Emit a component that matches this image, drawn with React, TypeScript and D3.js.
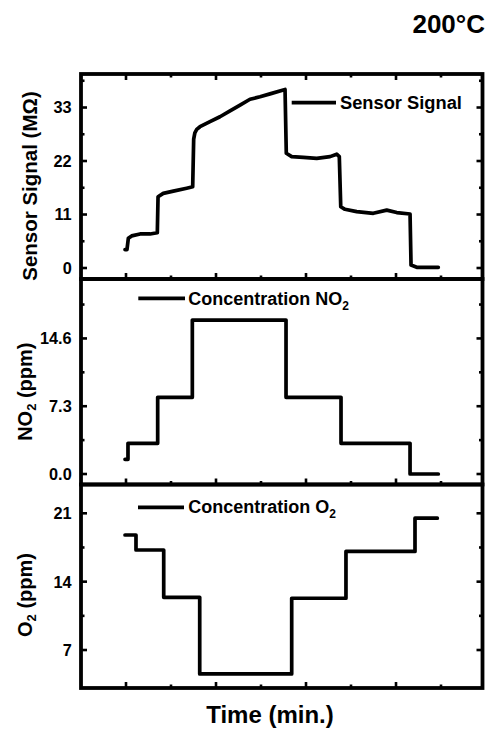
import React from 'react';
import * as d3 from 'd3';

// ---- data (time in arbitrary minutes) ----
const sensorTime = [98.9, 101.1, 102.6, 106.3, 115.6, 126.7, 134.8, 135.6, 141.4, 152.6, 167.4, 174.1, 175.2, 176.5, 178.6, 182.2, 193.3, 204.4, 215.6, 226.7, 237.8, 248.9, 260, 276.7, 278.1, 284.1, 297, 311.9, 326.7, 334.1, 337, 338.6, 343.3, 356.3, 374.8, 389.7, 400.8, 415.6, 416.7, 423, 447];
const sensorValue = [3.8, 3.8, 6.1, 6.6, 7.0, 7.0, 7.26, 14.66, 15.35, 15.8, 16.4, 16.7, 26.5, 27.8, 28.5, 29.05, 30.1, 31.1, 32.3, 33.5, 34.7, 35.2, 35.8, 36.7, 23.6, 22.9, 22.75, 22.55, 22.9, 23.4, 22.9, 12.6, 12.07, 11.6, 11.25, 11.9, 11.4, 11.1, 0.6, 0.15, 0.15];

const no2Time = [98.9, 102.2, 135.2, 173.7, 277.8, 338.9, 415.6, 447];
const no2Value = [1.58, 3.3, 8.26, 16.58, 8.26, 3.3, 0, 0];

const o2Time = [98.9, 111.1, 141.9, 181.9, 284.1, 344.4, 421.1, 445.9];
const o2Value = [18.78, 17.24, 12.4, 4.55, 12.3, 17.1, 20.5, 20.5];

const xMajorTicks = [100, 200, 300, 400];
const xMinorTicks = [150, 250, 350, 450];

const sensorTicks = [0, 11, 22, 33];
const sensorTickLabels = ['0', '11', '22', '33'];
const sensorMinor = [5.5, 16.5, 27.5, 38.5];

const no2Ticks = [0, 7.3, 14.6];
const no2TickLabels = ['0.0', '7.3', '14.6'];
const no2Minor = [3.65, 10.95, 18.25];

const o2Ticks = [7, 14, 21];
const o2TickLabels = ['7', '14', '21'];
const o2Minor = [10.5, 17.5];

const FONT = '"Liberation Sans", Arial, Helvetica, sans-serif';
const W = 486;
const H = 729;
const LEFT = 81;
const RIGHT = 482.5;
const LINE_W = 3.7;

const x = d3.scaleLinear().domain([50, 496.1]).range([LEFT, RIGHT]);

type PanelProps = {
  y0: number;
  y1: number;
  domain: [number, number];
  times: number[];
  values: number[];
  step: boolean;
  ticks: number[];
  tickLabels: string[];
  minor: number[];
  topTicks: boolean;
};

function Panel(p: PanelProps) {
  const y = d3.scaleLinear().domain(p.domain).range([p.y1, p.y0]);
  const line = d3
    .line<number>()
    .x((_, i) => x(p.times[i]))
    .y((d) => y(d))
    .curve(p.step ? d3.curveStepAfter : d3.curveLinear);
  const MJ = 6;
  const MN = 3.5;
  const tw = 2.6;
  return (
    <g>
      <path d={line(p.values) || ''} fill="none" stroke="#000" strokeWidth={LINE_W} strokeLinejoin="round" strokeLinecap="round" />
      {xMajorTicks.map((t) => (
        <line key={'xb' + t} x1={x(t)} x2={x(t)} y1={p.y1} y2={p.y1 - MJ} stroke="#000" strokeWidth={tw} />
      ))}
      {xMinorTicks.map((t) => (
        <line key={'xbm' + t} x1={x(t)} x2={x(t)} y1={p.y1} y2={p.y1 - MN} stroke="#000" strokeWidth={tw} />
      ))}
      {p.topTicks &&
        xMajorTicks.map((t) => (
          <line key={'xt' + t} x1={x(t)} x2={x(t)} y1={p.y0} y2={p.y0 + MJ} stroke="#000" strokeWidth={tw} />
        ))}
      {p.topTicks &&
        xMinorTicks.map((t) => (
          <line key={'xtm' + t} x1={x(t)} x2={x(t)} y1={p.y0} y2={p.y0 + MN} stroke="#000" strokeWidth={tw} />
        ))}
      {p.ticks.map((t, i) => (
        <g key={'y' + t}>
          <line x1={LEFT} x2={LEFT + MJ} y1={y(t)} y2={y(t)} stroke="#000" strokeWidth={tw} />
          <line x1={RIGHT} x2={RIGHT - MJ} y1={y(t)} y2={y(t)} stroke="#000" strokeWidth={tw} />
          <text x={71.7} y={y(t)} dy="0.36em" textAnchor="end" fontFamily={FONT} fontWeight="bold" fontSize={16.3}>
            {p.tickLabels[i]}
          </text>
        </g>
      ))}
      {p.minor.map((t) => (
        <g key={'ym' + t}>
          <line x1={LEFT} x2={LEFT + MN} y1={y(t)} y2={y(t)} stroke="#000" strokeWidth={tw} />
          <line x1={RIGHT} x2={RIGHT - MN} y1={y(t)} y2={y(t)} stroke="#000" strokeWidth={tw} />
        </g>
      ))}
      <rect x={LEFT} y={p.y0} width={RIGHT - LEFT} height={p.y1 - p.y0} fill="none" stroke="#000" strokeWidth={3.8} />
    </g>
  );
}

export default function App() {
  return (
    <svg width={W} height={H} style={{ position: 'absolute', left: 0, top: 0, background: '#fff' }}>
      <rect x={0} y={0} width={W} height={H} fill="#fff" />
      <text x={485} y={33.3} textAnchor="end" fontFamily={FONT} fontWeight="bold" fontSize={26}>
        200°C
      </text>

      <Panel y0={74} y1={279} domain={[-2.26, 39.89]} times={sensorTime} values={sensorValue} step={false} ticks={sensorTicks} tickLabels={sensorTickLabels} minor={sensorMinor} topTicks={true} />
      <Panel y0={279} y1={484.5} domain={[-1.13, 21.0]} times={no2Time} values={no2Value} step={true} ticks={no2Ticks} tickLabels={no2TickLabels} minor={no2Minor} topTicks={false} />
      <Panel y0={484.5} y1={688} domain={[3.11, 23.95]} times={o2Time} values={o2Value} step={true} ticks={o2Ticks} tickLabels={o2TickLabels} minor={o2Minor} topTicks={false} />

      {/* legends */}
      <line x1={291.7} x2={336} y1={102.7} y2={102.7} stroke="#000" strokeWidth={LINE_W} />
      <text x={340} y={108.5} fontFamily={FONT} fontWeight="bold" fontSize={18.3}>Sensor Signal</text>

      <line x1={138.3} x2={185} y1={298.3} y2={298.3} stroke="#000" strokeWidth={LINE_W} />
      <text x={188.3} y={305} fontFamily={FONT} fontWeight="bold" fontSize={18}>
        Concentration NO<tspan dy={5} fontSize={12}>2</tspan>
      </text>

      <line x1={138} x2={184} y1={507.3} y2={507.3} stroke="#000" strokeWidth={LINE_W} />
      <text x={188.3} y={513.3} fontFamily={FONT} fontWeight="bold" fontSize={18}>
        Concentration O<tspan dy={5} fontSize={12}>2</tspan>
      </text>

      {/* y labels */}
      <text transform="translate(36.5,186) rotate(-90)" textAnchor="middle" fontFamily={FONT} fontWeight="bold" fontSize={20.5}>
        Sensor Signal (MΩ)
      </text>
      <text transform="translate(31.7,391.7) rotate(-90)" textAnchor="middle" fontFamily={FONT} fontWeight="bold" fontSize={20}>
        NO<tspan dy={4} fontSize={13}>2</tspan><tspan dy={-4}> (ppm)</tspan>
      </text>
      <text transform="translate(31.7,595) rotate(-90)" textAnchor="middle" fontFamily={FONT} fontWeight="bold" fontSize={20}>
        O<tspan dy={4} fontSize={13}>2</tspan><tspan dy={-4}> (ppm)</tspan>
      </text>

      {/* x label */}
      <text x={270} y={723} textAnchor="middle" fontFamily={FONT} fontWeight="bold" fontSize={24}>
        Time (min.)
      </text>
    </svg>
  );
}
